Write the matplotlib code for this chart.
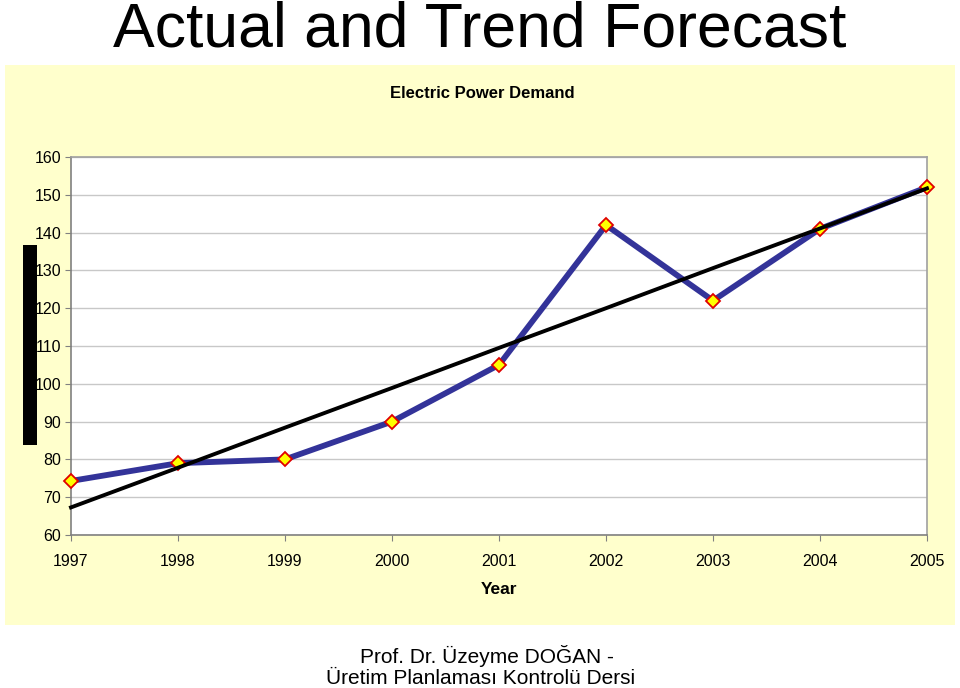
import matplotlib.pyplot as plt
from matplotlib.patches import Rectangle

plt.rcParams["font.family"] = ["Liberation Sans", "DejaVu Sans"]

years = ["1997", "1998", "1999", "2000", "2001", "2002", "2003", "2004", "2005"]
actual = [74.3, 79, 80, 90, 105, 142, 122, 141, 152]
trend = [67.3, 77.8, 88.4, 98.9, 109.5, 120.0, 130.6, 141.1, 151.7]
y_ticks = [60, 70, 80, 90, 100, 110, 120, 130, 140, 150, 160]

fig = plt.figure(figsize=(9.6, 6.88), dpi=100)
fig.patch.set_facecolor("white")

# yellow chart panel
fig.patches.append(Rectangle((5 / 960, 1 - 625 / 688), 950 / 960, 560 / 688,
                             transform=fig.transFigure, facecolor="#FFFFCC",
                             edgecolor="none", zorder=0))
# black box where the y label used to be
fig.patches.append(Rectangle((23 / 960, 1 - 445 / 688), 14 / 960, 200 / 688,
                             transform=fig.transFigure, facecolor="black",
                             edgecolor="none", zorder=1))

ax = fig.add_axes([71 / 960, 1 - 535 / 688, 856 / 960, 378 / 688])
ax.set_zorder(5)
ax.set_facecolor("white")
x = list(range(len(years)))

ax.plot(x, actual, color="#333399", lw=4.2, marker="D", ms=7.5,
        mfc="#FFFF00", mec="#E00000", mew=1.3, zorder=3, clip_on=False)
ax.plot(x, trend, color="black", lw=2.8, zorder=4, clip_on=False)

ax.set_xlim(0, 8)
ax.set_ylim(60, 160)
ax.set_yticks(y_ticks)
ax.set_xticks(x)
ax.set_xticklabels(years)
ax.tick_params(axis="y", labelsize=11.5, length=4, color="#808080", pad=3)
ax.tick_params(axis="x", labelsize=11.5, length=4, color="#808080", pad=10)
ax.grid(axis="y", color="#C8C8C8", lw=1)
ax.set_axisbelow(True)
for s in ax.spines.values():
    s.set_color("#A0A0A0")
    s.set_linewidth(1.2)
ax.spines["left"].set_color("#808080")
ax.spines["bottom"].set_color("#808080")

ax.set_xlabel("Year", fontsize=12.5, fontweight="bold", labelpad=9)

fig.text(0.5, 1 - 30 / 688, "Actual and Trend Forecast", ha="center", va="center",
         fontsize=45)
fig.text(482 / 960, 1 - 94 / 688, "Electric Power Demand", ha="center", va="center",
         fontsize=12, fontweight="bold")
fig.text(487 / 960, 1 - 656 / 688, "Prof. Dr. Üzeyme DOĞAN -", ha="center",
         va="center", fontsize=15)
fig.text(481 / 960, 1 - 678 / 688, "Üretim Planlaması Kontrolü Dersi", ha="center",
         va="center", fontsize=15)

fig.savefig("out.png", dpi=100)
